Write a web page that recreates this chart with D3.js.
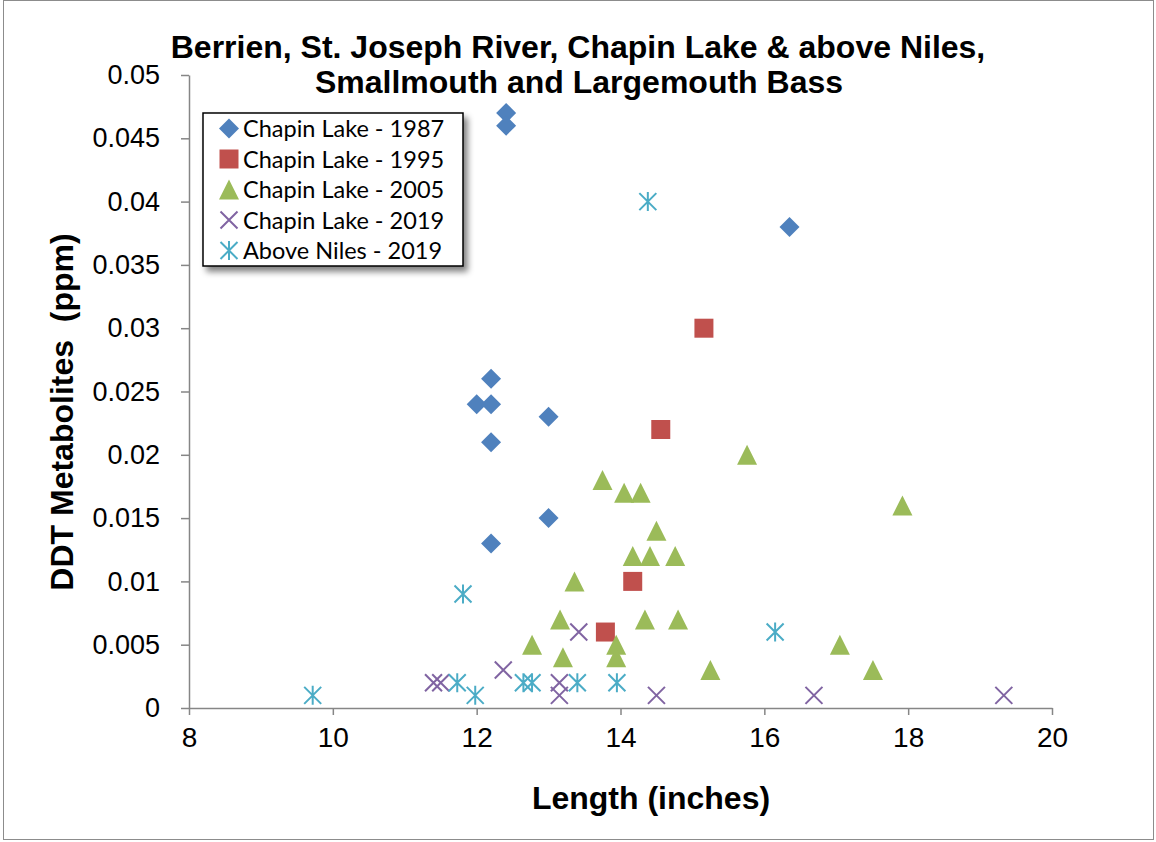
<!DOCTYPE html>
<html>
<head>
<meta charset="utf-8">
<script src="https://cdn.jsdelivr.net/npm/d3@7"></script>
<style>
  html, body { margin: 0; padding: 0; background: #fff; }
  svg { display: block; }
</style>
</head>
<body>
<svg id="chart" width="1156" height="842"></svg>
<script>
// ---- Data ----
const titleLines = ["Berrien, St. Joseph River, Chapin Lake & above Niles,", "Smallmouth and Largemouth Bass"];
const xAxisTitle = "Length (inches)";
const yAxisTitle = "DDT Metabolites  (ppm)";

const seriesNames = ["Chapin Lake - 1987", "Chapin Lake - 1995", "Chapin Lake - 2005", "Chapin Lake - 2019", "Above Niles - 2019"];
const seriesColors = ["#4F81BD", "#C0504D", "#9BBB59", "#8064A2", "#4BACC6"];
const seriesShapes = ["diamond", "square", "triangle", "x", "star"];

const chapin1987 = [
  [12.41, 0.047], [12.41, 0.046], [16.35, 0.038], [12.2, 0.026], [12.0, 0.024],
  [12.2, 0.024], [13.0, 0.023], [12.2, 0.021], [13.0, 0.015], [12.2, 0.013]
];
const chapin1995 = [
  [15.16, 0.030], [14.56, 0.022], [14.17, 0.010], [13.79, 0.006]
];
const chapin2005 = [
  [15.76, 0.020], [13.75, 0.018], [14.05, 0.017], [14.28, 0.017], [14.5, 0.014],
  [17.92, 0.016], [14.17, 0.012], [14.41, 0.012], [14.76, 0.012], [13.36, 0.010],
  [13.16, 0.007], [14.34, 0.007], [14.8, 0.007], [12.77, 0.005], [13.94, 0.005],
  [17.05, 0.005], [13.2, 0.004], [13.94, 0.004], [15.25, 0.003], [17.51, 0.003]
];
const chapin2019 = [
  [11.4, 0.002], [11.5, 0.002], [12.37, 0.003], [13.42, 0.006], [13.15, 0.002],
  [13.15, 0.001], [14.5, 0.001], [16.69, 0.001], [19.33, 0.001]
];
const niles2019 = [
  [9.72, 0.001], [11.73, 0.002], [11.81, 0.009], [11.98, 0.001], [12.65, 0.002],
  [12.77, 0.002], [13.4, 0.002], [13.95, 0.002], [14.38, 0.040], [16.15, 0.006]
];
const seriesData = [chapin1987, chapin1995, chapin2005, chapin2019, niles2019];

const xTicks = [8, 10, 12, 14, 16, 18, 20];
const yTicks = [0, 0.005, 0.01, 0.015, 0.02, 0.025, 0.03, 0.035, 0.04, 0.045, 0.05];
const yTickLabels = ["0", "0.005", "0.01", "0.015", "0.02", "0.025", "0.03", "0.035", "0.04", "0.045", "0.05"];

// ---- Layout ----
const svg = d3.select("#chart");
const plot = { left: 189, right: 1052, top: 75, bottom: 708 };

const x = d3.scaleLinear().domain([8, 20]).range([plot.left, plot.right]);
const y = d3.scaleLinear().domain([0, 0.05]).range([plot.bottom, plot.top]);

const axisColor = "#868686";
const fontMain = "Arial, 'Liberation Sans', sans-serif";

// outer border
svg.append("rect").attr("x", 3.5).attr("y", 0.5).attr("width", 1150).attr("height", 839)
  .attr("fill", "#fff").attr("stroke", "#8c8c8c").attr("stroke-width", 1);

// defs: shadow
const defs = svg.append("defs");
const f = defs.append("filter").attr("id", "shadow").attr("x", "-10%").attr("y", "-10%").attr("width", "130%").attr("height", "140%");
f.append("feGaussianBlur").attr("in", "SourceAlpha").attr("stdDeviation", 3).attr("result", "blur");
f.append("feOffset").attr("in", "blur").attr("dx", 4).attr("dy", 5).attr("result", "off");
f.append("feComponentTransfer").attr("in", "off").attr("result", "offa")
  .append("feFuncA").attr("type", "linear").attr("slope", 0.5);
const fm = f.append("feMerge");
fm.append("feMergeNode").attr("in", "offa");
fm.append("feMergeNode").attr("in", "SourceGraphic");

// ---- Axes ----
const xAxis = d3.axisBottom(x).tickValues(xTicks).tickSize(7).tickSizeOuter(0).tickPadding(12).tickFormat(d3.format("d"));
const gx = svg.append("g").attr("transform", `translate(0,${plot.bottom})`).call(xAxis);
gx.select(".domain").attr("stroke", axisColor).attr("stroke-width", 1.5);
gx.selectAll(".tick line").attr("stroke", axisColor).attr("stroke-width", 1.5);
gx.selectAll(".tick text").attr("font-family", fontMain).attr("font-size", 28).attr("fill", "#000");

const yAxis = d3.axisLeft(y).tickValues(yTicks).tickSize(8).tickSizeOuter(0).tickPadding(21)
  .tickFormat((d, i) => yTickLabels[i]);
const gy = svg.append("g").attr("transform", `translate(${plot.left},0)`).call(yAxis);
gy.select(".domain").attr("stroke", axisColor).attr("stroke-width", 1.5);
gy.selectAll(".tick line").attr("stroke", axisColor).attr("stroke-width", 1.5);
gy.selectAll(".tick text").attr("font-family", fontMain).attr("font-size", 27).attr("fill", "#000");

// ---- Titles ----
svg.append("text").attr("x", 578).attr("y", 58).attr("text-anchor", "middle")
  .attr("font-family", fontMain).attr("font-weight", "bold").attr("font-size", 32)
  .text(titleLines[0]);
svg.append("text").attr("x", 579).attr("y", 93).attr("text-anchor", "middle")
  .attr("font-family", fontMain).attr("font-weight", "bold").attr("font-size", 32)
  .text(titleLines[1]);

svg.append("text").attr("x", 651).attr("y", 809).attr("text-anchor", "middle")
  .attr("font-family", fontMain).attr("font-weight", "bold").attr("font-size", 32)
  .text(xAxisTitle);

svg.append("text").attr("transform", "translate(73,412) rotate(-90)").attr("text-anchor", "middle")
  .attr("font-family", fontMain).attr("font-weight", "bold").attr("font-size", 32)
  .style("white-space", "pre")
  .text(yAxisTitle);

// ---- Marker shapes ----
function markerPath(shape, s) {
  const h = s / 2;
  switch (shape) {
    case "diamond": return `M0,${-h}L${h},0L0,${h}L${-h},0Z`;
    case "square": return `M${-h},${-h}H${h}V${h}H${-h}Z`;
    case "triangle": return `M0,${-h}L${h},${h}L${-h},${h}Z`;
    case "x": return `M${-h},${-h}L${h},${h}M${h},${-h}L${-h},${h}`;
    case "star": return `M${-h},${-h}L${h},${h}M${h},${-h}L${-h},${h}M0,${-h - 1}L0,${h + 1}`;
  }
}
const markerSize = { diamond: 20, square: 19, triangle: 20, x: 17, star: 17 };

function drawMarker(g, shape, color, cx, cy) {
  const p = g.append("path").attr("d", markerPath(shape, markerSize[shape]))
    .attr("transform", `translate(${cx},${cy})`);
  if (shape === "x" || shape === "star") {
    p.attr("fill", "none").attr("stroke", color).attr("stroke-width", 2);
  } else {
    p.attr("fill", color).attr("stroke", "none");
  }
}

// ---- Points ----
seriesData.forEach((data, si) => {
  const g = svg.append("g").attr("class", "series-" + si);
  data.forEach(d => drawMarker(g, seriesShapes[si], seriesColors[si], x(d[0]), y(d[1])));
});

// ---- Legend ----
const leg = svg.append("g").attr("transform", "translate(203,113)");
leg.append("rect").attr("width", 260).attr("height", 153).attr("fill", "#fff")
  .attr("stroke", "#000").attr("stroke-width", 1.5).attr("filter", "url(#shadow)");
seriesNames.forEach((name, i) => {
  const cy = 15.5 + i * 30.5;
  drawMarker(leg, seriesShapes[i], seriesColors[i], 26, cy);
  leg.append("text").attr("x", 40).attr("y", cy + 8.5)
    .attr("font-family", "Lato, 'Open Sans', sans-serif").attr("font-size", 23.5).attr("fill", "#000")
    .text(name);
});
</script>
</body>
</html>
